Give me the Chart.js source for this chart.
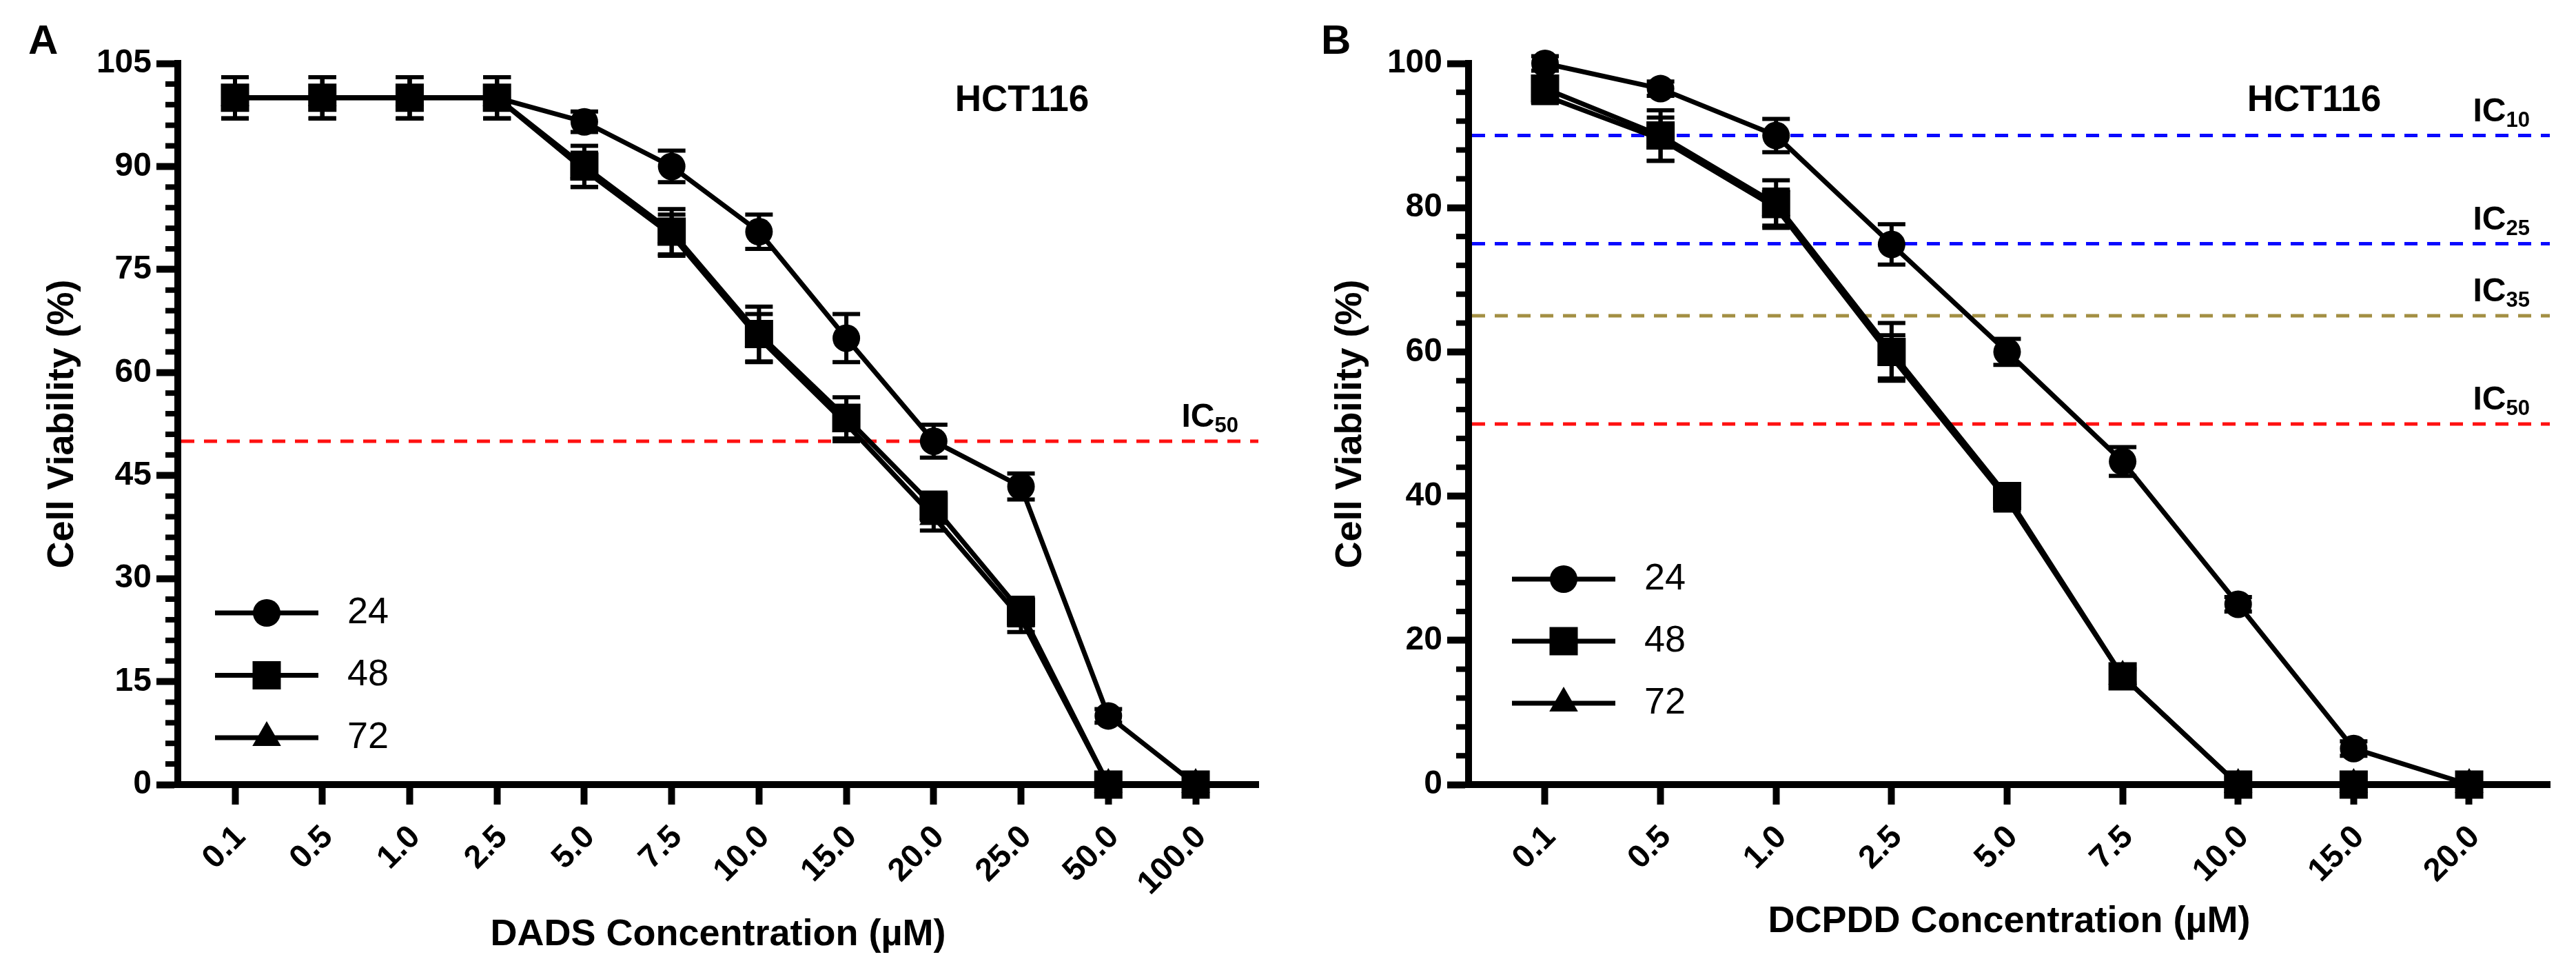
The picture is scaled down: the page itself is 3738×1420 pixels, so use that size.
<!DOCTYPE html>
<html lang="en">
<head>
<meta charset="UTF-8">
<title>HCT116 cell viability</title>
<script src="https://cdn.jsdelivr.net/npm/chart.js"></script>
<style>
  html, body { margin: 0; padding: 0; background: #fff; }
  .wrap { position: relative; width: 3738px; height: 1420px; }
  canvas { position: absolute; top: 0; }
  #panelA { left: 0; }
  #panelB { left: 1869px; }
</style>
</head>
<body>
<div class="wrap">
  <canvas id="panelA" width="1869" height="1420"></canvas>
  <canvas id="panelB" width="1869" height="1420"></canvas>
</div>
<script>
const FONT = "'Liberation Sans', Arial, sans-serif";

const hours = ['24', '48', '72'];

// A: DADS
const dadsConc = ['0.1', '0.5', '1.0', '2.5', '5.0', '7.5', '10.0', '15.0', '20.0', '25.0', '50.0', '100.0'];
const dads24 = [100, 100, 100, 100, 96.5, 90, 80.5, 65, 50, 43.4, 10, 0];
const dads48 = [100, 100, 100, 100, 90, 80.5, 65.6, 53.4, 40.5, 25.2, 0, 0];
const dads72 = [100, 100, 100, 100, 89.5, 80, 65, 52.5, 39, 24.2, 0, 0];
const dads24Err = [3, 3, 3, 3, 1.5, 2.3, 2.5, 3.5, 2.4, 1.9, 1, 0];
const dads48Err = [3, 3, 3, 3, 3, 3.3, 4, 3, 2, 2, 0, 0];
const dads72Err = [3, 3, 3, 3, 2.5, 3, 3.5, 2.5, 2, 2, 0, 0];
const dadsIC = [50];
const dadsICNames = ['50'];

// B: DCPDD
const dcpddConc = ['0.1', '0.5', '1.0', '2.5', '5.0', '7.5', '10.0', '15.0', '20.0'];
const dcpdd24 = [100, 96.5, 90, 74.9, 60, 44.8, 25, 5, 0];
const dcpdd48 = [96.5, 90, 80.5, 60, 40, 15, 0, 0, 0];
const dcpdd72 = [95.5, 89.5, 80, 59.3, 39.5, 15, 0, 0, 0];
const dcpdd24Err = [1, 1, 2.3, 2.8, 1.8, 2, 1, 1, 0];
const dcpdd48Err = [1, 3.5, 3.3, 4, 1.5, 1, 0, 0, 0];
const dcpdd72Err = [1, 3, 2.5, 3, 1.5, 1, 0, 0, 0];
const dcpddIC = [90, 75, 65, 50];
const dcpddICNames = ['10', '25', '35', '50'];

const icColor = { '10': '#0a0aff', '25': '#0a0aff', '35': '#a38f43', '50': '#ff1010' };
const shapes = ['circle', 'rect', 'triangle'];
const radii = [20, 29, 24];

function drawMarker(ctx, style, r, x, y) {
  ctx.beginPath();
  if (style === 'circle') {
    ctx.arc(x, y, r, 0, Math.PI * 2);
  } else if (style === 'rect') {
    const s = Math.SQRT1_2 * r;
    ctx.rect(x - s, y - s, 2 * s, 2 * s);
  } else {
    ctx.moveTo(x, y - r);
    ctx.lineTo(x + 0.866 * r, y + 0.5 * r);
    ctx.lineTo(x - 0.866 * r, y + 0.5 * r);
    ctx.closePath();
  }
  ctx.fill();
}

function panelPlugin(cfg) {
  return {
    id: 'panel' + cfg.letter,
    beforeDatasetsDraw(chart) {
      const { ctx, chartArea: a, scales: { y } } = chart;
      ctx.save();
      // IC reference lines
      ctx.lineWidth = 5;
      ctx.setLineDash([19, 14]);
      cfg.ic.forEach((v, k) => {
        const py = y.getPixelForValue(v);
        ctx.strokeStyle = icColor[cfg.icNames[k]];
        ctx.beginPath();
        ctx.moveTo(a.left + 5, py);
        ctx.lineTo(a.right, py);
        ctx.stroke();
        ctx.fillStyle = '#000';
        ctx.textBaseline = 'alphabetic';
        ctx.font = 'bold 48px ' + FONT;
        const wIC = ctx.measureText('IC').width;
        ctx.font = 'bold 31px ' + FONT;
        const wSub = ctx.measureText(cfg.icNames[k]).width;
        const x0 = a.right - 29 - wIC - wSub;
        ctx.font = 'bold 48px ' + FONT;
        ctx.fillText('IC', x0, py - 21);
        ctx.font = 'bold 31px ' + FONT;
        ctx.fillText(cfg.icNames[k], x0 + wIC, py - 13);
      });
      // error bars
      ctx.setLineDash([]);
      ctx.strokeStyle = '#000';
      ctx.lineWidth = 6;
      chart.data.datasets.forEach((ds, di) => {
        const meta = chart.getDatasetMeta(di);
        meta.data.forEach((pt, i) => {
          const e = ds.errors[i];
          if (!e) return;
          const v = ds.data[i].y;
          const y1 = y.getPixelForValue(v + e);
          const y2 = y.getPixelForValue(v - e);
          ctx.beginPath();
          ctx.moveTo(pt.x, y1); ctx.lineTo(pt.x, y2);
          ctx.moveTo(pt.x - 20, y1); ctx.lineTo(pt.x + 20, y1);
          ctx.moveTo(pt.x - 20, y2); ctx.lineTo(pt.x + 20, y2);
          ctx.stroke();
        });
      });
      ctx.restore();
    },
    afterDraw(chart) {
      const { ctx, chartArea: a, scales: { y } } = chart;
      ctx.save();
      // minor ticks on the y axis
      ctx.strokeStyle = '#000';
      ctx.lineWidth = 8;
      for (let v = y.min; v <= y.max; v += cfg.minorStep) {
        if (v % cfg.yStep === 0) continue;
        const py = y.getPixelForValue(v);
        ctx.beginPath();
        ctx.moveTo(a.left - 18, py);
        ctx.lineTo(a.left, py);
        ctx.stroke();
      }
      // panel letter and cell line
      ctx.fillStyle = '#000';
      ctx.textBaseline = 'alphabetic';
      ctx.textAlign = 'left';
      ctx.font = 'bold 60px ' + FONT;
      ctx.fillText(cfg.letter, cfg.letterX, 78);
      ctx.textAlign = 'center';
      ctx.font = 'bold 53px ' + FONT;
      ctx.fillText('HCT116', cfg.titleX, 161);
      // legend
      ctx.textAlign = 'left';
      ctx.textBaseline = 'middle';
      ctx.font = '54px ' + FONT;
      chart.data.datasets.forEach((ds, k) => {
        const ly = cfg.legend.y + k * cfg.legend.dy;
        ctx.lineWidth = 7;
        ctx.beginPath();
        ctx.moveTo(cfg.legend.x, ly);
        ctx.lineTo(cfg.legend.x + 150, ly);
        ctx.stroke();
        drawMarker(ctx, ds.pointStyle, ds.pointRadius, cfg.legend.x + 75, ly);
        ctx.fillText(ds.label, cfg.legend.x + 192, ly);
      });
      ctx.restore();
    }
  };
}

function makeChart(cfg) {
  const datasets = cfg.series.map((vals, k) => ({
    label: hours[k],
    data: vals.map((v, i) => ({ x: i, y: v })),
    errors: cfg.errors[k],
    borderColor: '#000',
    borderWidth: 7,
    pointStyle: shapes[k],
    pointRadius: radii[k],
    pointBackgroundColor: '#000',
    pointBorderWidth: 0,
    tension: 0,
    fill: false,
    clip: false
  }));
  return new Chart(document.getElementById(cfg.id), {
    type: 'line',
    data: { datasets },
    plugins: [panelPlugin(cfg)],
    options: {
      responsive: false,
      animation: false,
      devicePixelRatio: 1,
      events: [],
      layout: { padding: { left: 0, top: cfg.top, right: cfg.right, bottom: 0 } },
      plugins: { legend: { display: false }, tooltip: { enabled: false } },
      scales: {
        x: {
          type: 'linear',
          min: cfg.xMin,
          max: cfg.xMax,
          afterBuildTicks: s => { s.ticks = cfg.conc.map((_, i) => ({ value: i })); },
          afterFit: s => { s.height = 1420 - cfg.bottom; },
          ticks: {
            autoSkip: false, minRotation: 45, maxRotation: 45, padding: 20, labelOffset: 8, color: '#000',
            font: { family: FONT, size: 47, weight: 'bold' },
            callback: (v, i) => cfg.conc[i]
          },
          grid: { drawOnChartArea: false, drawTicks: true, tickLength: 29, tickWidth: 10, tickColor: '#000' },
          border: { display: true, color: '#000', width: 10 },
          title: {
            display: true, text: cfg.xTitle, color: '#000',
            font: { family: FONT, size: 54, weight: 'bold' },
            padding: { top: 0, bottom: cfg.xTitlePad }
          }
        },
        y: {
          min: 0,
          max: cfg.yMax,
          afterFit: s => { s.width = cfg.left; },
          ticks: { stepSize: cfg.yStep, padding: 7, color: '#000', font: { family: FONT, size: 48, weight: 'bold' } },
          grid: { drawOnChartArea: false, drawTicks: true, tickLength: 31, tickWidth: 10, tickColor: '#000' },
          border: { display: true, color: '#000', width: 10 },
          title: {
            display: true, text: 'Cell Viability (%)', color: '#000',
            font: { family: FONT, size: 54, weight: 'bold' },
            padding: { top: 59, bottom: 0 }
          }
        }
      }
    }
  });
}

makeChart({
  id: 'panelA', letter: 'A', letterX: 41, titleX: 1483,
  left: 258, top: 92, right: 43, bottom: 1138,
  xMin: -0.655, xMax: 11.718, yMax: 105, yStep: 15, minorStep: 3,
  conc: dadsConc, series: [dads24, dads48, dads72], errors: [dads24Err, dads48Err, dads72Err],
  ic: dadsIC, icNames: dadsICNames,
  xTitle: 'DADS Concentration (µM)', xTitlePad: 31,
  legend: { x: 312, y: 889, dy: 90.5 }
});

makeChart({
  id: 'panelB', letter: 'B', letterX: 48, titleX: 1489,
  left: 262, top: 92, right: 38, bottom: 1138,
  xMin: -0.662, xMax: 8.698, yMax: 100, yStep: 20, minorStep: 4,
  conc: dcpddConc, series: [dcpdd24, dcpdd48, dcpdd72], errors: [dcpdd24Err, dcpdd48Err, dcpdd72Err],
  ic: dcpddIC, icNames: dcpddICNames,
  xTitle: 'DCPDD Concentration (µM)', xTitlePad: 50,
  legend: { x: 325, y: 840, dy: 90 }
});
</script>
</body>
</html>
